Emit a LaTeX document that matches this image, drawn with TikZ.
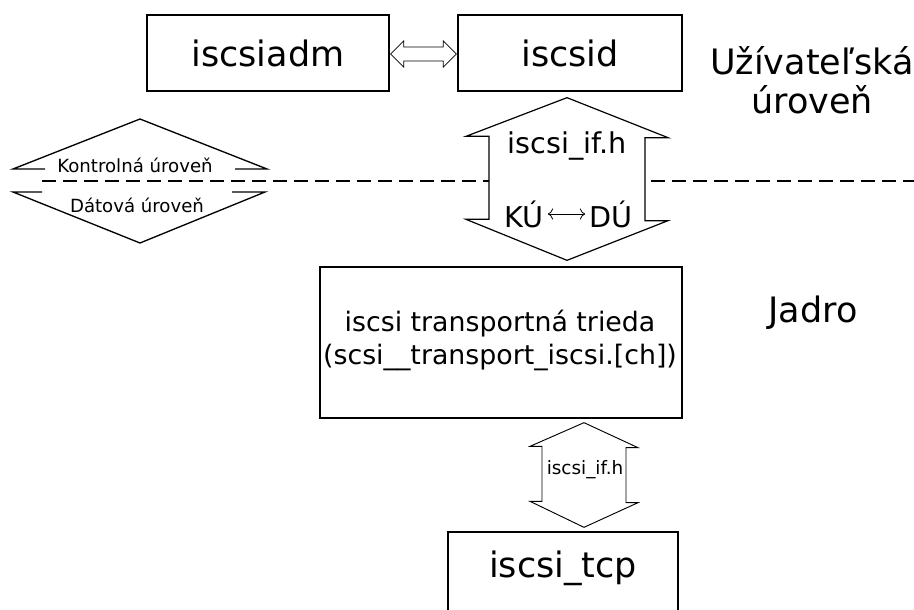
\documentclass[tikz,border=0pt]{standalone}
\usepackage{fontspec}
\setmainfont{DejaVu Sans}
\usetikzlibrary{arrows.meta,calc}
\tikzset{
  box/.style={draw, line width=1pt, inner sep=0pt},
  bigtxt/.style={font=\fontsize{26.25}{31}\selectfont, inner sep=0pt},
  midtxt/.style={font=\fontsize{21.5}{25}\selectfont, inner sep=0pt},
  boxtxt/.style={font=\fontsize{20.1}{24.75}\selectfont, align=center, inner sep=0pt},
  smalltxt/.style={font=\fontsize{13.6}{16}\selectfont, inner sep=0pt},
  lowtxt/.style={font=\fontsize{13.8}{16}\selectfont, inner sep=0pt},
  blockarrow/.style={draw, fill=white, line width=0.9pt, line join=miter},
  levelline/.style={line width=0.9pt, dash pattern=on 10.5pt off 5.25pt},
  tri/.style={line width=1pt, line join=miter}
}
\begin{document}
\begin{tikzpicture}[x=0.75pt,y=-0.75pt]
\useasboundingbox (0,0) rectangle (914,610);
\clip (0,0) rectangle (914,610);

% boundary between control and data level
\draw[levelline] (42,181) -- (914,181);

% legend diamond
\draw[tri] (45,169) -- (13,169) -- (140,119) -- (267,169) -- (235,169);
\draw[tri] (42,192) -- (13,192) -- (140,243) -- (265,192) -- (232,192);
\node[smalltxt] (ctl) at (135,165) {Kontrolná úroveň};
\node[smalltxt] (dat) at (137,205) {Dátová úroveň};

% user space components
\node[box, minimum width=181.5pt, minimum height=57pt, bigtxt] (adm) at (268,53) {iscsiadm};
\node[box, minimum width=168pt, minimum height=57pt, bigtxt] (iscsid) at (570,53) {iscsid};

% hollow double arrow iscsiadm <-> iscsid
\draw[blockarrow, line width=0.6pt]
  ($(adm.east)+(1,1)$) -- ++(13,-13) -- ++(0,6) coordinate (sa)
  -- ($(iscsid.west)+(-14,-6)$) -- ++(0,-6) -- ($(iscsid.west)+(-1,1)$)
  -- ++(-13,13) -- ++(0,-6) -- ($(adm.east)+(14,8)$) -- ++(0,6) -- cycle;

% level labels
\node[bigtxt, align=center] (user) at (812,80) {Užívateľská\\[-2pt]úroveň};
\node[bigtxt] (kernel) at (813,313) {Jadro};

% transport class
\node[box, minimum width=271.5pt, minimum height=113.25pt] (trans) at (501,342.5) {};
\node[boxtxt] (transtxt) at (500,340)
  {iscsi transportná trieda\\(scsi\_\_transport\_iscsi.[ch])};

% iscsi_tcp module (runs past the lower edge)
\node[box, minimum width=172.5pt, minimum height=75pt] (tcp) at (563,582) {};
\node[bigtxt] (tcptxt) at (563,568) {iscsi\_tcp};

% big double arrow iscsid <-> transport class
\draw[blockarrow]
  ($(iscsid.south)+(-3,6)$) -- ++(101,40) -- ++(-23,0) -- ++(0,83) -- ++(23,0)
  -- ($(trans.north)+(66,-6)$) -- ++(-101,-41) -- ++(23,0) -- ++(0,-83) -- ++(-23,0) -- cycle;
\node[midtxt] (ifh) at (567,146) {iscsi\_if.h};
\node[midtxt] (ku) at (524,214) {KÚ};
\node[midtxt] (du) at (611,214) {DÚ};
\draw[{To[length=4pt]}-{To[length=4pt]}, line width=0.6pt] (ku.east) ++(4,0) -- ($(du.west)+(-4,0)$);

% double arrow transport class <-> iscsi_tcp
\draw[blockarrow, line width=0.7pt]
  ($(trans.south)+(83,4)$) -- ++(54,25) -- ++(-12,0) -- ++(0,55) -- ++(12,0)
  -- ($(tcp.north)+(21,-4)$) -- ++(-54,-26) -- ++(12,0) -- ++(0,-55) -- ++(-12,0) -- cycle;
\node[lowtxt] (ifh2) at (585,470) {iscsi\_if.h};
\end{tikzpicture}
\end{document}
